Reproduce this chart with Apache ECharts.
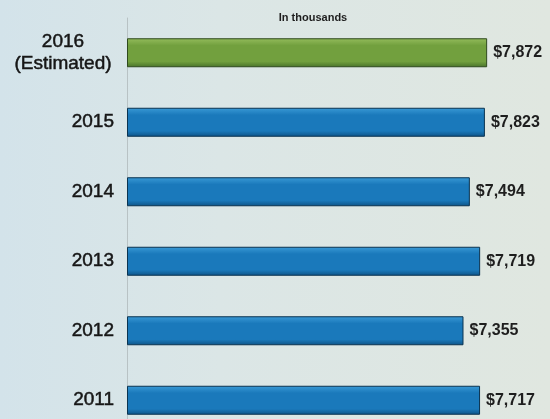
<!DOCTYPE html>
<html>
<head>
<meta charset="utf-8">
<script src="https://cdn.jsdelivr.net/npm/echarts@6/dist/echarts.min.js"></script>
<style>
  html, body { margin: 0; padding: 0; }
  #main { width: 550px; height: 419px; }
</style>
</head>
<body>
<div id="main"></div>
<script>
var years = ["2016 (Estimated)", "2015", "2014", "2013", "2012", "2011"];
var amounts = [7872, 7823, 7494, 7719, 7355, 7717];
var estimated = [true, false, false, false, false, false];

function grad(top, mid, bottom) {
  return new echarts.graphic.LinearGradient(0, 0, 0, 1, [
    { offset: 0, color: top },
    { offset: 0.25, color: mid },
    { offset: 0.8, color: mid },
    { offset: 1, color: bottom }
  ]);
}

var blue = grad("#3a9ad6", "#1a79bb", "#0e5386");
var green = grad("#94bc5c", "#72a03e", "#48722a");

var chart = echarts.init(document.getElementById("main"));

chart.setOption({
  backgroundColor: new echarts.graphic.LinearGradient(0, 0, 1, 0, [
    { offset: 0, color: "#d3e3ea" },
    { offset: 0.4, color: "#dbe6e6" },
    { offset: 1, color: "#e0e7e0" }
  ]),
  animation: false,
  title: {
    text: "In thousands",
    left: 308,
    top: 7,
    textAlign: "center",
    textStyle: { fontSize: 11, fontWeight: "bold", color: "#1e1e1e", fontFamily: "Liberation Sans" }
  },
  grid: { left: 127, top: 18, width: 366, height: 417, outerBoundsMode: "none" },
  xAxis: {
    type: "value",
    min: 0,
    max: 8000,
    show: false
  },
  yAxis: {
    type: "category",
    inverse: true,
    data: years,
    axisLine: { lineStyle: { color: "#b8c2c4", width: 1 } },
    axisTick: { show: false },
    axisLabel: {
      margin: 13,
      fontFamily: "Liberation Sans",
      fontSize: 19,
      color: "#161616",
      textBorderColor: "#161616",
      textBorderWidth: 0.5,
      formatter: function (v, i) {
        if (estimated[i]) {
          var parts = v.split(" ");
          return "{e|" + parts[0] + "}\n{e|" + parts[1] + "}";
        }
        return v;
      },
      rich: {
        e: {
          width: 102, align: "center", fontSize: 19, lineHeight: 22, color: "#161616",
          fontFamily: "Liberation Sans", textBorderColor: "#161616", textBorderWidth: 0.5
        }
      }
    }
  },
  series: [{
    type: "bar",
    barWidth: 29,
    data: amounts.map(function (v, i) {
      return {
        value: v,
        itemStyle: {
          color: estimated[i] ? green : blue,
          borderColor: estimated[i] ? "#2f4a1e" : "#0a3350",
          borderWidth: 1
        }
      };
    }),
    label: {
      show: true,
      position: "right",
      distance: 6,
      fontFamily: "Liberation Sans",
      fontWeight: "bold",
      fontSize: 16,
      color: "#1e1e1e",
      formatter: function (p) {
        return "$" + p.value.toLocaleString("en-US");
      }
    }
  }]
});
</script>
</body>
</html>
